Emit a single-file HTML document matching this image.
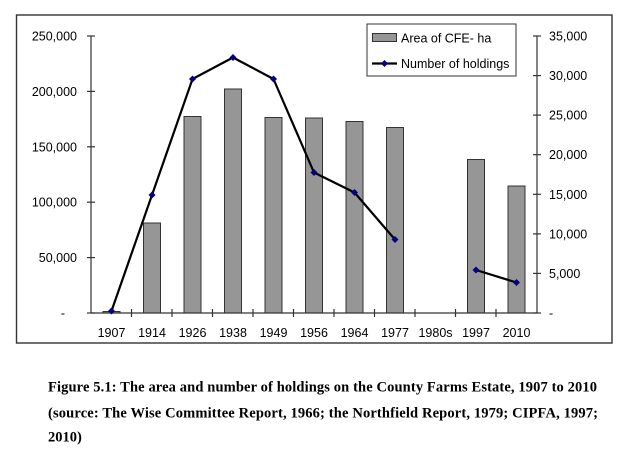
<!DOCTYPE html>
<html><head><meta charset="utf-8"><style>
html,body{margin:0;padding:0;background:#fff;}
svg{display:block;}
.t{font-family:"Liberation Sans",Arial,sans-serif;font-size:12.5px;fill:#000;}
.c{font-family:"Liberation Serif","Times New Roman",serif;font-size:14.5px;font-weight:bold;fill:#000;}
</style></head><body>
<svg width="633" height="462" viewBox="0 0 633 462" xmlns="http://www.w3.org/2000/svg">
<rect x="16.5" y="15" width="595.5" height="328" fill="#fff" stroke="#333" stroke-width="1.4"/>
<!-- bars -->
<g fill="#969696" stroke="#333" stroke-width="1">
<rect x="103" y="311.5" width="17" height="1.5"/>
<rect x="143.5" y="223" width="17" height="90"/>
<rect x="184" y="116.5" width="17" height="196.5"/>
<rect x="224.5" y="89" width="17" height="224"/>
<rect x="265" y="117.5" width="17" height="195.5"/>
<rect x="305.5" y="118" width="17" height="195"/>
<rect x="346" y="121.5" width="17" height="191.5"/>
<rect x="386.5" y="127.5" width="17" height="185.5"/>
<rect x="467.5" y="159.5" width="17" height="153.5"/>
<rect x="508" y="186" width="17" height="127"/>
</g>
<!-- axes -->
<g stroke="#333" stroke-width="1.2" fill="none">
<line x1="91" y1="36" x2="91" y2="313"/>
<line x1="537" y1="36" x2="537" y2="313"/>
<line x1="91" y1="313" x2="537" y2="313"/>
<!-- left ticks -->
<line x1="87" y1="36" x2="95" y2="36"/>
<line x1="87" y1="91.4" x2="95" y2="91.4"/>
<line x1="87" y1="146.8" x2="95" y2="146.8"/>
<line x1="87" y1="202.2" x2="95" y2="202.2"/>
<line x1="87" y1="257.6" x2="95" y2="257.6"/>
<line x1="87" y1="313" x2="95" y2="313"/>
<!-- right ticks -->
<line x1="533" y1="36" x2="541" y2="36"/>
<line x1="533" y1="75.6" x2="541" y2="75.6"/>
<line x1="533" y1="115.1" x2="541" y2="115.1"/>
<line x1="533" y1="154.7" x2="541" y2="154.7"/>
<line x1="533" y1="194.3" x2="541" y2="194.3"/>
<line x1="533" y1="233.9" x2="541" y2="233.9"/>
<line x1="533" y1="273.4" x2="541" y2="273.4"/>
<line x1="533" y1="313" x2="541" y2="313"/>
<!-- x ticks -->
<line x1="131.5" y1="309" x2="131.5" y2="317"/>
<line x1="172" y1="309" x2="172" y2="317"/>
<line x1="212.5" y1="309" x2="212.5" y2="317"/>
<line x1="253" y1="309" x2="253" y2="317"/>
<line x1="293.5" y1="309" x2="293.5" y2="317"/>
<line x1="334" y1="309" x2="334" y2="317"/>
<line x1="374.5" y1="309" x2="374.5" y2="317"/>
<line x1="415" y1="309" x2="415" y2="317"/>
<line x1="455.5" y1="309" x2="455.5" y2="317"/>
<line x1="496" y1="309" x2="496" y2="317"/>
</g>
<!-- line series -->
<g stroke="#000" stroke-width="2.2" fill="none" stroke-linejoin="round">
<polyline points="111.5,311 152,195 192.5,79 233,57.5 273.5,79 314,172.5 354.5,192.5 395,239.5"/>
<polyline points="476,270 516.5,282.5"/>
</g>
<g fill="#000080">
<path d="M111.5,307.5 l3.5,3.5 l-3.5,3.5 l-3.5,-3.5z"/>
<path d="M152,191.5 l3.5,3.5 l-3.5,3.5 l-3.5,-3.5z"/>
<path d="M192.5,75.5 l3.5,3.5 l-3.5,3.5 l-3.5,-3.5z"/>
<path d="M233,54 l3.5,3.5 l-3.5,3.5 l-3.5,-3.5z"/>
<path d="M273.5,75.5 l3.5,3.5 l-3.5,3.5 l-3.5,-3.5z"/>
<path d="M314,169 l3.5,3.5 l-3.5,3.5 l-3.5,-3.5z"/>
<path d="M354.5,189 l3.5,3.5 l-3.5,3.5 l-3.5,-3.5z"/>
<path d="M395,236 l3.5,3.5 l-3.5,3.5 l-3.5,-3.5z"/>
<path d="M476,266.5 l3.5,3.5 l-3.5,3.5 l-3.5,-3.5z"/>
<path d="M516.5,279 l3.5,3.5 l-3.5,3.5 l-3.5,-3.5z"/>
</g>
<!-- left labels -->
<g class="t" text-anchor="end">
<text x="77" y="40.5">250,000</text>
<text x="77" y="96">200,000</text>
<text x="77" y="151.3">150,000</text>
<text x="77" y="206.7">100,000</text>
<text x="77" y="262.1">50,000</text>
<text x="65" y="317.5">-</text>
</g>
<!-- right labels -->
<g class="t">
<text x="549" y="40.5">35,000</text>
<text x="549" y="80">30,000</text>
<text x="549" y="119.6">25,000</text>
<text x="549" y="159.2">20,000</text>
<text x="549" y="198.8">15,000</text>
<text x="549" y="238.4">10,000</text>
<text x="549" y="277.9">5,000</text>
<text x="549" y="317.5">-</text>
</g>
<!-- x labels -->
<g class="t" text-anchor="middle">
<text x="111.5" y="337">1907</text>
<text x="152" y="337">1914</text>
<text x="192.5" y="337">1926</text>
<text x="233" y="337">1938</text>
<text x="273.5" y="337">1949</text>
<text x="314" y="337">1956</text>
<text x="354.5" y="337">1964</text>
<text x="395" y="337">1977</text>
<text x="435.5" y="337">1980s</text>
<text x="476" y="337">1997</text>
<text x="516.5" y="337">2010</text>
</g>
<!-- legend -->
<rect x="367" y="24" width="149" height="52" fill="#fff" stroke="#333" stroke-width="1"/>
<rect x="372.5" y="33.5" width="24" height="8" fill="#969696" stroke="#333" stroke-width="1"/>
<text class="t" x="401" y="42.5">Area of CFE- ha</text>
<line x1="372" y1="63.5" x2="397" y2="63.5" stroke="#000" stroke-width="2.2"/>
<path d="M384.5,60 l3.5,3.5 l-3.5,3.5 l-3.5,-3.5z" fill="#000080"/>
<text class="t" x="401" y="68">Number of holdings</text>
<!-- caption -->
<text class="c" x="48" y="391.5" textLength="549" lengthAdjust="spacing">Figure 5.1: The area and number of holdings on the County Farms Estate, 1907 to 2010</text>
<text class="c" x="48" y="417.3" textLength="550" lengthAdjust="spacing">(source: The Wise Committee Report, 1966; the Northfield Report, 1979; CIPFA, 1997;</text>
<text class="c" x="48" y="441.7">2010)</text>
</svg>
</body></html>
